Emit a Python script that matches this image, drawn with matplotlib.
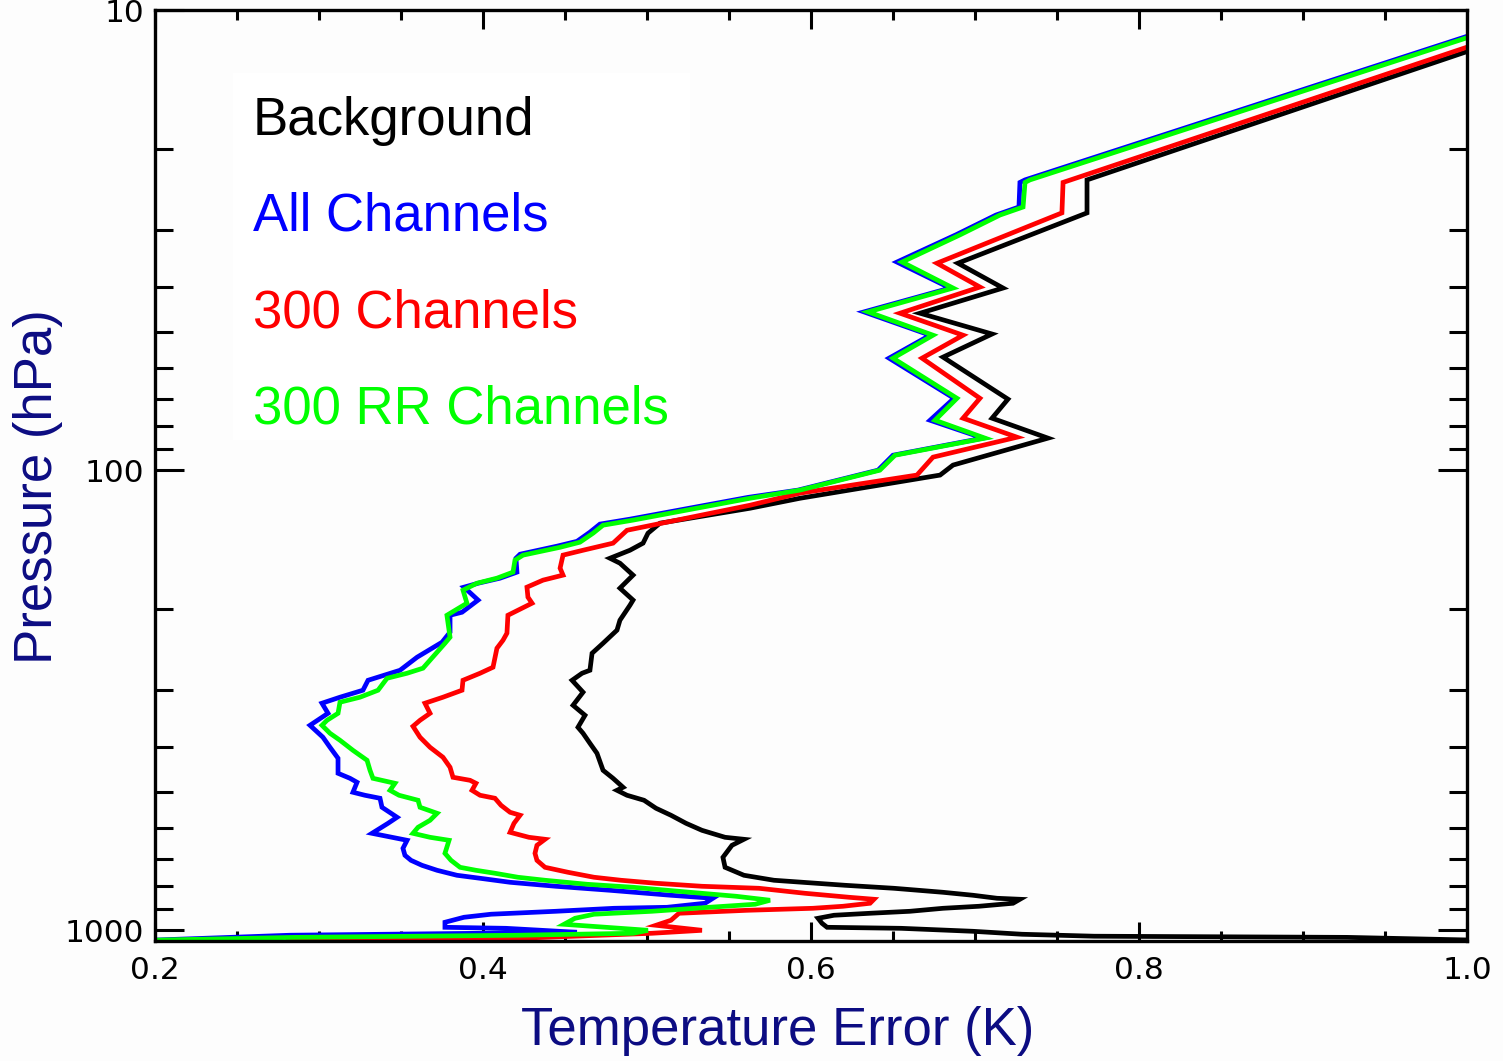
import matplotlib
matplotlib.use('Agg')
import matplotlib.pyplot as plt
import matplotlib.patches as mpatches
from matplotlib.ticker import MultipleLocator, LogLocator, FixedLocator, NullFormatter
import numpy as np

# --- data (temperature error in K vs pressure in hPa) ---
bg_err = [1.075, 0.7683, 0.7683, 0.6896, 0.7171, 0.6665, 0.7104, 0.6805, 0.7201, 0.7104,
          0.7445, 0.6866, 0.6787, 0.5933, 0.5628, 0.5079, 0.5006, 0.4976, 0.4896, 0.4774,
          0.4835, 0.4915, 0.4835, 0.4915, 0.4896, 0.4835, 0.4817, 0.4732, 0.4665, 0.4652,
          0.4604, 0.4543, 0.4610, 0.4549, 0.4622, 0.4579, 0.4610, 0.4652, 0.4695, 0.4732,
          0.4793, 0.4854, 0.4817, 0.4878, 0.4982, 0.5055, 0.5146, 0.5238, 0.5335, 0.5476,
          0.5591, 0.5518, 0.5463, 0.5476, 0.5591, 0.5774, 0.6207, 0.6506, 0.6805, 0.6988,
          0.7134, 0.7274, 0.7232, 0.7024, 0.6805, 0.6604, 0.6360, 0.6140, 0.6043, 0.6067,
          0.6098, 0.6549, 0.6988, 0.7287, 0.7726, 0.9268, 1.008]
bg_p = [10.0, 23.4, 27.6, 35.5, 40.2, 45.6, 50.6, 56.8, 70.1, 77.1,
        85.2, 97.5, 102.5, 115.1, 121.0, 130.4, 137.1, 144.1, 149.3, 155.4,
        159.3, 169.1, 180.5, 191.6, 196.6, 211.9, 222.7, 237.8, 250.0, 272.2,
        276.3, 286.2, 303.8, 324.3, 341.0, 362.1, 373.1, 392.3, 412.4, 449.0,
        467.4, 488.9, 496.3, 508.8, 521.7, 543.0, 562.3, 585.4, 606.3, 627.9,
        634.2, 653.6, 694.1, 729.6, 759.3, 778.5, 798.3, 810.4, 826.8, 839.2,
        851.9, 856.2, 873.4, 886.7, 895.7, 909.2, 918.3, 927.5, 941.7, 965.5,
        985.1, 990.1, 1005, 1020, 1030, 1036, 1051]

all_err = [1.0494, 0.7305, 0.7274, 0.7268, 0.7128, 0.6884, 0.6524, 0.6848, 0.6323, 0.6726,
           0.6476, 0.6872, 0.6726, 0.7049, 0.6500, 0.6409, 0.5921, 0.5616, 0.4896, 0.4713,
           0.4652, 0.4573, 0.4451, 0.4226, 0.4201, 0.4207, 0.4104, 0.3970, 0.3884, 0.3970,
           0.3872, 0.3799, 0.3799, 0.3750, 0.3598, 0.3494, 0.3299, 0.3268, 0.3128, 0.3018,
           0.3055, 0.2945, 0.3024, 0.3067, 0.3116, 0.3116, 0.3189, 0.3232, 0.3207, 0.3280,
           0.3372, 0.3384, 0.3476, 0.3421, 0.3323, 0.3445, 0.3537, 0.3512, 0.3524, 0.3561,
           0.3628, 0.3720, 0.3841, 0.3982, 0.4165, 0.4445, 0.4774, 0.5146, 0.5402, 0.5354,
           0.5122, 0.4799, 0.4445, 0.4049, 0.3884, 0.3768, 0.3768, 0.4140, 0.4573, 0.2823,
           0.1970]
all_p = [10.0, 23.4, 23.7, 26.8, 27.9, 30.8, 35.3, 40.2, 45.3, 50.9,
         57.1, 69.8, 77.9, 85.2, 92.8, 100.0, 110.5, 114.6, 127.8, 131.0,
         136.4, 142.8, 146.3, 152.3, 155.4, 166.6, 171.7, 176.1, 179.6, 191.6,
         203.6, 206.7, 225.0, 236.6, 255.0, 272.2, 286.2, 300.8, 311.5, 321.0,
         337.6, 358.5, 380.6, 400.2, 422.8, 455.8, 467.4, 476.8, 501.2, 508.8,
         516.5, 540.3, 568.0, 585.4, 615.5, 627.9, 637.4, 663.5, 687.1, 704.6,
         722.4, 740.6, 759.3, 770.8, 786.4, 802.3, 818.5, 839.2, 851.9, 873.4,
         891.3, 895.7, 909.2, 922.7, 936.9, 960.6, 985.1, 990.1, 1010, 1025,
         1051]

ch300_err = [1.0677, 0.7537, 0.7530, 0.6768, 0.7030, 0.6543, 0.6927, 0.6677, 0.7030, 0.6927,
             0.7256, 0.6744, 0.6646, 0.5933, 0.5628, 0.4878, 0.4793, 0.4610, 0.4488, 0.4470,
             0.4488, 0.4366, 0.4268, 0.4274, 0.4299, 0.4152, 0.4146, 0.4122, 0.4085, 0.4061,
             0.3982, 0.3878, 0.3872, 0.3756, 0.3646, 0.3677, 0.3616, 0.3573, 0.3616, 0.3677,
             0.3756, 0.3799, 0.3817, 0.3921, 0.3957, 0.3933, 0.3982, 0.4073, 0.4110, 0.4165,
             0.4226, 0.4189, 0.4165, 0.4280, 0.4378, 0.4329, 0.4317, 0.4329, 0.4378, 0.4518,
             0.4677, 0.4841, 0.5055, 0.5335, 0.5683, 0.5963, 0.6232, 0.6384, 0.6360, 0.6195,
             0.6012, 0.5610, 0.5195, 0.5146, 0.5055, 0.5335, 0.5030, 0.4213, 0.2811]
ch300_p = [10.0, 23.7, 27.6, 35.5, 40.0, 45.6, 50.9, 57.1, 69.8, 77.1,
           84.8, 93.7, 102.5, 112.2, 119.2, 135.1, 144.1, 149.3, 153.0, 163.3,
           169.1, 173.4, 179.6, 188.8, 194.6, 206.7, 226.1, 234.2, 243.8, 268.1,
           276.3, 286.2, 300.8, 311.5, 321.0, 337.6, 349.6, 360.3, 380.6, 400.2,
           420.7, 442.3, 465.0, 472.1, 479.2, 496.3, 508.8, 516.5, 535.0, 554.0,
           562.3, 585.4, 612.4, 627.9, 634.2, 653.6, 680.3, 704.6, 729.6, 748.0,
           766.9, 778.5, 790.3, 802.3, 810.4, 830.9, 847.7, 856.2, 873.4, 886.7,
           895.7, 904.7, 918.3, 951.1, 975.2, 1000, 1015, 1041, 1051]

rr_err = [1.052, 0.7335, 0.7305, 0.7293, 0.7152, 0.6909, 0.6555, 0.6866, 0.6348, 0.6744,
          0.6500, 0.6890, 0.6756, 0.7061, 0.6512, 0.6420, 0.5933, 0.5628, 0.4915, 0.4732,
          0.4671, 0.4591, 0.4470, 0.4244, 0.4195, 0.4183, 0.4085, 0.3963, 0.3878, 0.3902,
          0.3780, 0.3799, 0.3768, 0.3634, 0.3537, 0.3415, 0.3360, 0.3250, 0.3128, 0.3116,
          0.3049, 0.3018, 0.3067, 0.3128, 0.3207, 0.3293, 0.3311, 0.3329, 0.3463, 0.3433,
          0.3488, 0.3604, 0.3616, 0.3720, 0.3677, 0.3604, 0.3573, 0.3677, 0.3793, 0.3768,
          0.3805, 0.3860, 0.3957, 0.4073, 0.4213, 0.4378, 0.4634, 0.4915, 0.5262, 0.5543,
          0.5750, 0.5659, 0.5378, 0.5030, 0.4677, 0.4561, 0.4494, 0.4750, 0.5006, 0.4915,
          0.4213, 0.2854, 0.1970]
rr_p = [10.0, 23.4, 23.7, 26.8, 27.9, 30.8, 35.3, 40.2, 45.3, 50.9,
        57.1, 69.8, 77.9, 85.2, 92.8, 100.0, 110.5, 115.1, 128.4, 131.7,
        137.1, 143.4, 147.1, 153.0, 156.9, 166.6, 171.7, 176.1, 182.3, 194.6,
        206.7, 230.7, 237.8, 269.4, 276.3, 283.3, 300.8, 311.5, 319.4, 337.6,
        349.6, 358.5, 373.1, 386.4, 406.3, 427.1, 449.0, 467.4, 479.2, 496.3,
        508.8, 521.7, 540.3, 556.8, 576.7, 597.2, 615.5, 627.9, 637.4, 680.3,
        704.6, 729.6, 740.6, 751.7, 766.9, 778.5, 794.3, 806.3, 826.8, 843.4,
        860.4, 877.8, 891.3, 909.2, 922.7, 941.7, 970.4, 985.1, 1000, 1015,
        1025, 1036, 1051]

labels = ['Background', 'All Channels', '300 Channels', '300 RR Channels']
colors = ['#000000', '#0000ff', '#ff0000', '#00ff00']

x_ticks = [0.2, 0.4, 0.6, 0.8, 1.0]
x_ticklabels = ['0.2', '0.4', '0.6', '0.8', '1.0']
y_ticks = [10, 100, 1000]
y_ticklabels = ['10', '100', '1000']

W, H = 1503, 1061
NAVY = '#0c0c82'
BG = '#fdfdfd'

fig = plt.figure(figsize=(W / 100, H / 100), dpi=100, facecolor=BG)
ax = fig.add_axes([155 / W, 1 - 941 / H, (1467 - 155) / W, (941 - 10) / H])
ax.set_facecolor(BG)

# faint white patch behind the labels
ax.add_patch(mpatches.Rectangle((233 / W, 1 - 440 / H), (690 - 233) / W, (440 - 73) / H,
                                transform=fig.transFigure, facecolor='white',
                                edgecolor='none', zorder=0.5))

series = [(bg_err, bg_p), (ch300_err, ch300_p), (all_err, all_p), (rr_err, rr_p)]
order = [0, 2, 1, 3]
for (xs, ps), i in zip(series, order):
    ax.plot(xs, ps, color=colors[i], lw=3.4, solid_joinstyle='miter', zorder=2 + i)

ax.set_yscale('log')
ax.set_xlim(0.2, 1.0)
ax.set_ylim(1055, 10)

ax.xaxis.set_major_locator(FixedLocator(x_ticks))
ax.set_xticklabels(x_ticklabels)
ax.xaxis.set_minor_locator(MultipleLocator(0.05))
ax.yaxis.set_major_locator(FixedLocator(y_ticks))
ax.set_yticklabels(y_ticklabels)
ax.yaxis.set_minor_locator(LogLocator(base=10, subs=np.arange(2, 10)))
ax.yaxis.set_minor_formatter(NullFormatter())

ax.tick_params(axis='both', which='both', direction='in', top=True, right=True,
               width=2.2, colors='black', labelsize=22.5)
ax.tick_params(axis='x', which='major', length=14, pad=11)
ax.tick_params(axis='x', which='minor', length=7)
ax.tick_params(axis='y', which='major', length=21, pad=8)
ax.tick_params(axis='y', which='minor', length=13)
for lab in ax.get_xticklabels() + ax.get_yticklabels():
    lab.set_fontfamily('DejaVu Sans')

for s in ax.spines.values():
    s.set_linewidth(2.4)
    s.set_zorder(10)

# axis titles
fig.text(778 / W, 1 - 1031 / H, 'Temperature Error (K)', color=NAVY,
         fontsize=38, family='Liberation Sans', ha='center', va='center')
fig.text(38 / W, 1 - 487 / H, 'Pressure (hPa)', color=NAVY, rotation=90,
         fontsize=38, family='Liberation Sans', ha='center', va='center')

# coloured labels
baselines = [135, 231, 327, 423]
for lab, col, yb in zip(labels, colors, baselines):
    fig.text(253 / W, 1 - yb / H, lab, color=col, fontsize=38,
             family='Liberation Sans', ha='left', va='baseline')

fig.savefig('out.png', dpi=100, facecolor=fig.get_facecolor())
